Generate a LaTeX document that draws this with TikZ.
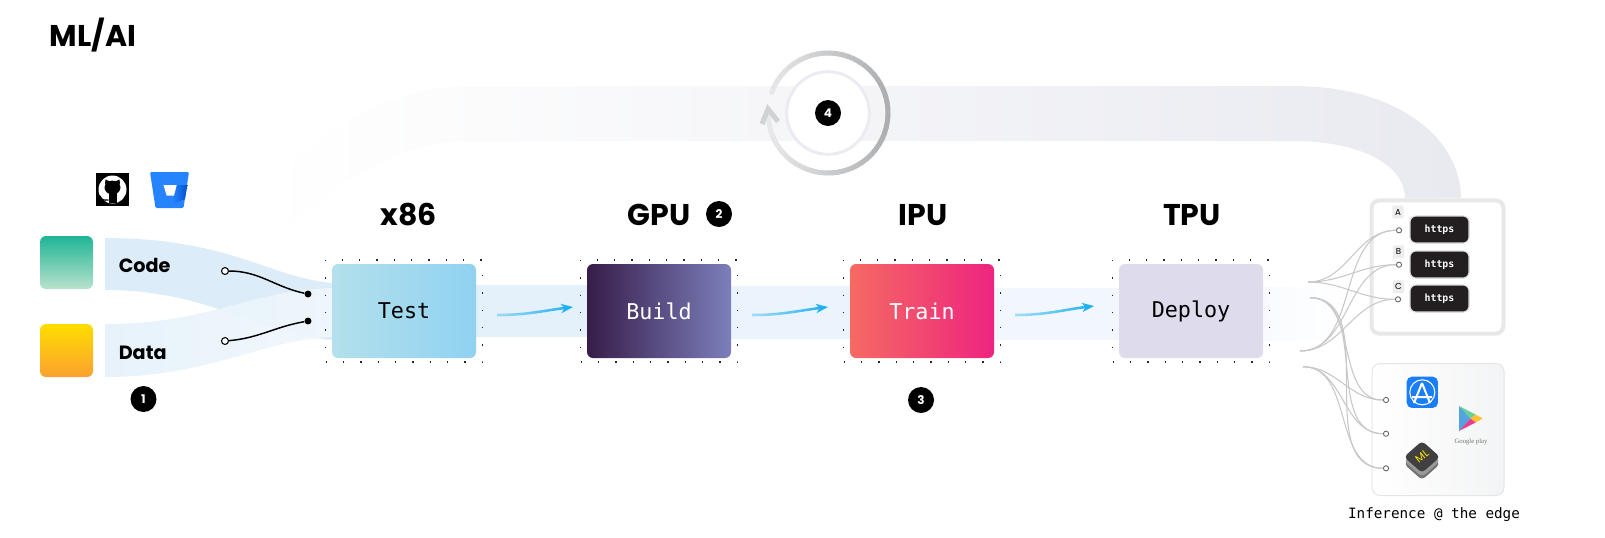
\documentclass[tikz,border=0pt]{standalone}
\usepackage{fontspec}
\setmainfont{Poppins}
\setmonofont{DejaVu Sans Mono}
\newfontfamily\playfont{Liberation Serif}
\usetikzlibrary{arrows.meta,positioning,calc,fadings}
\definecolor{codeblue}{HTML}{DCEDF9}
\definecolor{datablue}{HTML}{E4F1FB}
\definecolor{datapale}{HTML}{F0F7FC}
\definecolor{ringdark}{HTML}{ADAEB0}
\definecolor{ringlight}{HTML}{E8E9EB}
\definecolor{innerring}{HTML}{EBEBF3}
\definecolor{loopband}{HTML}{E9EAF0}
\definecolor{flowblue}{HTML}{1CB0F0}
\definecolor{wiregrey}{HTML}{C8C8C8}
\definecolor{pillblack}{HTML}{231F20}
\definecolor{appblue}{HTML}{1A7EF8}
\definecolor{testa}{HTML}{B3E0EC}
\definecolor{testb}{HTML}{90D2F1}
\definecolor{builda}{HTML}{371D49}
\definecolor{buildb}{HTML}{7C7FBC}
\definecolor{traina}{HTML}{F56A62}
\definecolor{trainb}{HTML}{EE2480}
\definecolor{deployc}{HTML}{DDDBEC}
\definecolor{codea}{HTML}{1FB596}
\definecolor{codeb}{HTML}{B8E2CC}
\definecolor{dataa}{HTML}{FFDD00}
\definecolor{datab}{HTML}{FBA130}
\definecolor{linka}{HTML}{E4F0FA}
\definecolor{linkb}{HTML}{EBF4FC}
\definecolor{linkc}{HTML}{F1F7FD}
\definecolor{linkd}{HTML}{F8FBFE}
\definecolor{bucketa}{HTML}{2684FF}
\definecolor{bucketb}{HTML}{0052CC}
\definecolor{storeside}{HTML}{F3F4F5}
\tikzfading[name=flowfade,left color=transparent!65,right color=transparent!0]
\tikzset{
  stage/.style={rounded corners=4.5pt,minimum width=108pt,minimum height=70.5pt,inner sep=0pt,
    font=\ttfamily\fontsize{16.3}{18}\selectfont},
  dotframe/.style={draw=black!85,line width=1pt,dash pattern=on 1pt off 12pt,
    minimum width=117.75pt,minimum height=76.5pt,inner sep=0pt},
  heading/.style={font=\bfseries\fontsize{22.5}{26}\selectfont},
  badge/.style={circle,fill=black,text=white,minimum size=19.5pt,inner sep=0pt,
    font=\bfseries\fontsize{9}{10}\selectfont},
  source/.style={rounded corners=4.5pt,minimum size=39.75pt,inner sep=0pt},
  inlabel/.style={anchor=west,inner sep=0pt,font=\bfseries\fontsize{14.4}{16}\selectfont},
  opendot/.style={circle,draw=black,fill=white,line width=.8pt,minimum size=5.2pt,inner sep=0pt},
  filldot/.style={circle,fill=black,minimum size=5.2pt,inner sep=0pt},
  wiredot/.style={circle,draw=black!65,fill=white,line width=.6pt,minimum size=3.9pt,inner sep=0pt},
  wire/.style={draw=wiregrey,line width=.8pt},
  flowarrow/.style={draw=flowblue,line width=1.9pt,path fading=flowfade,
    -{Stealth[length=9pt,width=7pt,inset=2.5pt]}},
  pill/.style={fill=pillblack,draw=black!15,line width=.8pt,rounded corners=4.5pt,text=white,
    minimum width=44.25pt,minimum height=20.25pt,inner sep=0pt,
    font=\ttfamily\bfseries\fontsize{7.4}{9}\selectfont},
  chip/.style={fill=black!7,rounded corners=1pt,minimum width=8.5pt,minimum height=9.5pt,inner sep=0pt,
    font=\fontsize{6.5}{7}\selectfont},
}
\begin{document}
\begin{tikzpicture}[x=.75pt,y=-.75pt,>=latex]
    \useasboundingbox (0,0) rectangle (1605,537);
    % loop band behind everything
    \shade[left color=white,right color=loopband]
      (262,195) .. controls (320,125) and (395,86) .. (470,86) -- (1293,86)
      .. controls (1400,86) and (1461,140) .. (1461,198) -- (1405,198)
      .. controls (1405,165) and (1360,141) .. (1293,141) -- (470,141)
      .. controls (400,141) and (340,180) .. (276,240) -- cycle;
    % input bands
    \fill[codeblue] (105,238) .. controls (230,238) and (270,278) .. (333,283)
      -- (333,340) .. controls (260,335) and (210,290) .. (105,290) -- cycle;
    \shade[left color=datablue,right color=datapale,opacity=.9]
      (105,324) .. controls (210,324) and (250,290) .. (333,288)
      -- (333,337) .. controls (260,340) and (210,377) .. (105,377) -- cycle;
    % bands between the stages
    \fill[linka] (476,285) rectangle (587,337);
    \fill[linkb] (731,286) rectangle (850,339);
    \fill[linkc] (994,288) rectangle (1119,340);
    \shade[left color=linkd,right color=white] (1263,287) rectangle (1345,340);

    \node[heading] (title) at (93,35) {ML/AI};

    % stages
    \node[stage,left color=testa,right color=testb] (test) at (404,311) {Test};
    \node[stage,left color=builda,right color=buildb,text=white,right of=test,node distance=191.25pt] (build) {Build};
    \node[stage,left color=traina,right color=trainb,text=white,right of=build,node distance=197.25pt] (train) {Train};
    \node[stage,fill=deployc,right of=train,node distance=201.75pt] (deploy) {Deploy};
    \foreach \s in {test,build,train,deploy}
      \node[dotframe] (\s dots) at (\s) {};
    \node[heading] (x86) at (409,215) {x86};
    \node[heading] (gpu) at (659,215) {GPU};
    \node[heading] (ipu) at (923,215) {IPU};
    \node[heading] (tpu) at (1192,215) {TPU};
    \node[badge] (two) at (719,214) {2};
    \node[badge] (one) at (143.5,399) {1};
    \node[badge] (three) at (921,400) {3};

    % sources
    \node[source,top color=codea,bottom color=codeb] (code) at (66.5,262.5) {};
    \node[source,top color=dataa,bottom color=datab] (data) at (66.5,350.5) {};
    \node[inlabel] (codelabel) at (118.5,265) {Code};
    \node[inlabel] (datalabel) at (118.5,353) {Data};
    \node[opendot] (codeout) at (225,271) {};
    \node[opendot] (dataout) at (225,341) {};
    \node[filldot] (codein) at (308,294) {};
    \node[filldot] (datain) at (308,321) {};
    \draw[line width=1.1pt] (codeout) to[out=0,in=168] (codein);
    \draw[line width=1.1pt] (dataout) to[out=5,in=190] (datain);

    % flow arrows
    \coordinate (flowa) at (497,315);
    \coordinate (flowb) at (573,307);
    \coordinate (flowc) at (752,315);
    \coordinate (flowd) at (828,307);
    \coordinate (flowe) at (1015,315);
    \coordinate (flowf) at (1094,306);
    \draw[flowarrow] (flowa) to[out=0,in=187] (flowb);
    \draw[flowarrow] (flowc) to[out=0,in=187] (flowd);
    \draw[flowarrow] (flowe) to[out=0,in=187] (flowf);

    % loop symbol
    \node[circle,draw=innerring,fill=white,line width=2.25pt,minimum size=62pt,inner sep=0pt] (loopc) at (828,113) {};
    \foreach \a in {200,206,...,536} {
      \pgfmathsetmacro\ringpct{50+50*cos(\a+3)}
      \draw[ringdark!\ringpct!ringlight,line width=3.75pt,line cap=round]
        ($(loopc)+(\a:60)$) -- ($(loopc)+(\a+6:60)$);
    }
    \draw[ringlight!90!black,line width=3.75pt,line join=miter] (762,124) -- (768,109) -- (778,121.5);
    \node[badge] (four) at (loopc) {4};

    % repository icons
    \node[fill=black,minimum size=24.75pt,inner sep=0pt] (github) at (112.5,189.5) {};
    \fill[white] (112.5,189.5) circle[radius=10.5pt];
    \fill[black] (112.5,187.5) circle[x radius=6pt,y radius=5.2pt];
    \fill[black] (105,184) -- (105.5,179.5) -- (110,181.5) -- cycle;
    \fill[black] (120,184) -- (119.5,179.5) -- (115,181.5) -- cycle;
    \fill[black] (108.5,192) rectangle (116.5,203);
    \draw[black,line width=1pt] (100,196) .. controls (102,201) and (104,200) .. (108.5,200);
    \fill[rounded corners=1pt,fill=bucketa] (150,172) -- (189,172) -- (183.5,208) -- (155.5,208) -- cycle;
    \shade[left color=bucketa,right color=bucketb] (172,185) -- (187.4,185) -- (185,199) -- (172,204) -- cycle;
    \fill[white] (163.5,185) -- (176.7,185) -- (174,195.7) -- (166.7,195.7) -- cycle;

    % https panel
    \node[draw=black!9,fill=white,line width=3pt,rounded corners=6pt,minimum width=99pt,minimum height=100pt,inner sep=0pt] (httpsbox) at (1437.5,267) {};
    \node[pill] (pilla) at (1439.5,229.5) {https};
    \node[pill] (pillb) at (1439.5,264.5) {https};
    \node[pill] (pillc) at (1439.5,298.5) {https};
    \node[chip] (chipa) at (1398,212) {A};
    \node[chip] (chipb) at (1398.5,251.7) {B};
    \node[chip] (chipc) at (1398.5,286.7) {C};
    \node[wiredot] (dota) at (1399,230.3) {};
    \node[wiredot] (dotb) at (1399,264.7) {};
    \node[wiredot] (dotc) at (1398,299.3) {};

    % store panel
    \node[draw=black!10,left color=white,right color=storeside,line width=.75pt,rounded corners=6pt,minimum width=99pt,minimum height=99pt,inner sep=0pt] (storebox) at (1438,429.5) {};
    \node[wiredot] (dotd) at (1386,400) {};
    \node[wiredot] (dote) at (1386,433.7) {};
    \node[wiredot] (dotf) at (1386,468.3) {};

    \coordinate (wirea) at (1308,282);
    \coordinate (wireb) at (1300,351);
    \coordinate (wirec) at (1310,297.7);
    \coordinate (wired) at (1303,366.7);
    \foreach \f in {wirea,wireb}
      \foreach \t in {dota,dotb,dotc}
        \draw[wire] (\f) to[out=0,in=180] (\t);
    \foreach \f in {wirec,wired}
      \foreach \t in {dotd,dote,dotf}
        \draw[wire] (\f) to[out=0,in=180] (\t);

    % app store icon
    \node[fill=appblue,rounded corners=4pt,minimum size=23.5pt,inner sep=0pt] (appstore) at (1422.3,392.3) {};
    \draw[white,line width=.8pt] (1422.3,392.3) circle[radius=9.4pt];
    \draw[white,line width=1.5pt] (1414,403) -- (1422,383) (1430,403) -- (1422,383) (1412,397) -- (1432,397);

    % ml icon
    \foreach \d/\c in {7/55,4/40,0/25}
      \fill[black!\c!white,rounded corners=3pt] (1422,441+\d) -- (1440,457+\d) -- (1422,473+\d) -- (1404,457+\d) -- cycle;
    \fill[black!75,rounded corners=3pt] (1422,441) -- (1440,457) -- (1422,473) -- (1404,457) -- cycle;
    \node[rotate=38,text=yellow!90!orange,inner sep=0pt,font=\fontsize{8}{9}\selectfont] (mlicon) at (1422,456) {ML};

    % play icon
    \fill[cyan!70!blue!70] (1459,406) -- (1459,431) -- (1470.5,418.5) -- cycle;
    \fill[teal!60!green!60] (1459,406) -- (1470.5,418.5) -- (1475.5,414.5) -- cycle;
    \fill[orange!60!yellow!80] (1475.5,414.5) -- (1482.7,418.5) -- (1475.5,422.5) -- (1470.5,418.5) -- cycle;
    \fill[magenta!70!purple!80] (1459,431) -- (1470.5,418.5) -- (1475.5,422.5) -- cycle;
    \node[text=black!55,inner sep=0pt,font=\playfont\fontsize{5}{6}\selectfont] (playlabel) at (1471,441.5) {Google play};

    \node[inner sep=0pt,font=\ttfamily\fontsize{10.7}{12}\selectfont] (edge) at (1434,515) {Inference @ the edge};
\end{tikzpicture}
\end{document}
